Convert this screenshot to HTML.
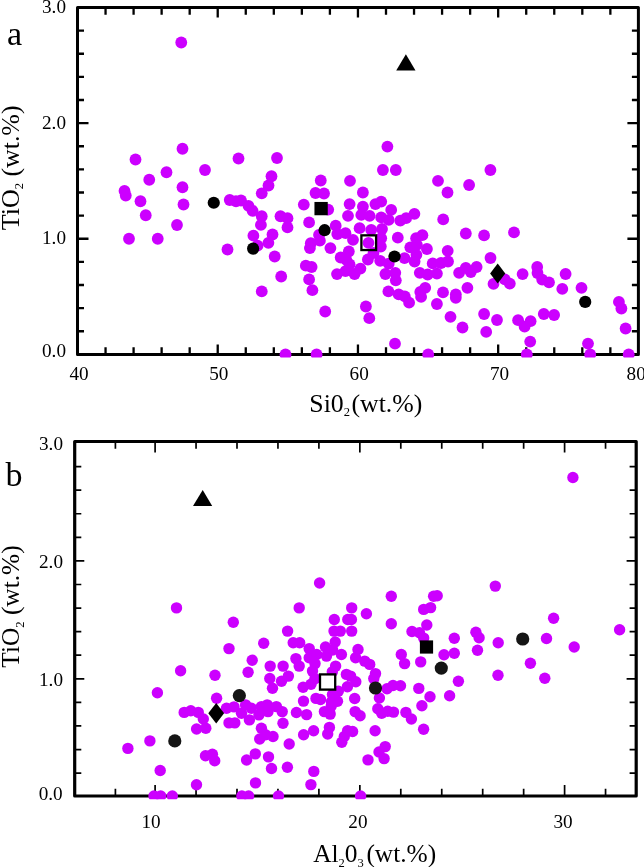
<!DOCTYPE html>
<html><head><meta charset="utf-8"><title>TiO2 scatter</title>
<style>html,body{margin:0;padding:0;background:#fff}svg{display:block;will-change:transform}text{font-family:"Liberation Serif",serif;fill:#000}</style>
</head><body>
<svg width="644" height="867" viewBox="0 0 644 867">
<rect width="644" height="867" fill="#fff"/>
<defs>
<clipPath id="ca"><rect x="70" y="0" width="574" height="357.4"/></clipPath>
<clipPath id="cb"><rect x="70" y="430" width="574" height="369.3"/></clipPath>
</defs>
<g id="pa">
<rect x="77.5" y="7.5" width="560.9" height="346.9" fill="none" stroke="#000" stroke-linejoin="round" stroke-width="3"/>
<path d="M105.55 354.4v-7.2M105.55 7.5v7.2M133.59 354.4v-7.2M133.59 7.5v7.2M161.63 354.4v-7.2M161.63 7.5v7.2M189.68 354.4v-7.2M189.68 7.5v7.2M217.72 354.4v-10M217.72 7.5v10M245.77 354.4v-7.2M245.77 7.5v7.2M273.81 354.4v-7.2M273.81 7.5v7.2M301.86 354.4v-7.2M301.86 7.5v7.2M329.9 354.4v-7.2M329.9 7.5v7.2M357.95 354.4v-10M357.95 7.5v10M386 354.4v-7.2M386 7.5v7.2M414.04 354.4v-7.2M414.04 7.5v7.2M442.08 354.4v-7.2M442.08 7.5v7.2M470.13 354.4v-7.2M470.13 7.5v7.2M498.17 354.4v-10M498.17 7.5v10M526.22 354.4v-7.2M526.22 7.5v7.2M554.26 354.4v-7.2M554.26 7.5v7.2M582.31 354.4v-7.2M582.31 7.5v7.2M610.36 354.4v-7.2M610.36 7.5v7.2M77.5 30.63h6.5M638.4 30.63h-6.5M77.5 53.75h6.5M638.4 53.75h-6.5M77.5 76.88h6.5M638.4 76.88h-6.5M77.5 100.01h6.5M638.4 100.01h-6.5M77.5 123.13h11M638.4 123.13h-11M77.5 146.26h6.5M638.4 146.26h-6.5M77.5 169.39h6.5M638.4 169.39h-6.5M77.5 192.51h6.5M638.4 192.51h-6.5M77.5 215.64h6.5M638.4 215.64h-6.5M77.5 238.77h11M638.4 238.77h-11M77.5 261.89h6.5M638.4 261.89h-6.5M77.5 285.02h6.5M638.4 285.02h-6.5M77.5 308.15h6.5M638.4 308.15h-6.5M77.5 331.27h6.5M638.4 331.27h-6.5" stroke="#000" stroke-width="2.3" fill="none"/>
<g clip-path="url(#ca)">
<circle cx="181.25" cy="42.5" r="5.9" fill="#cc00ff"/>
<circle cx="182.5" cy="148.75" r="5.9" fill="#cc00ff"/>
<circle cx="135.5" cy="159.5" r="5.9" fill="#cc00ff"/>
<circle cx="238.5" cy="158.5" r="5.9" fill="#cc00ff"/>
<circle cx="205" cy="170" r="5.9" fill="#cc00ff"/>
<circle cx="166.5" cy="172.25" r="5.9" fill="#cc00ff"/>
<circle cx="149.25" cy="179.75" r="5.9" fill="#cc00ff"/>
<circle cx="182.5" cy="187.25" r="5.9" fill="#cc00ff"/>
<circle cx="124.5" cy="191" r="5.9" fill="#cc00ff"/>
<circle cx="125.75" cy="195.5" r="5.9" fill="#cc00ff"/>
<circle cx="140.5" cy="201.25" r="5.9" fill="#cc00ff"/>
<circle cx="183.5" cy="204.5" r="5.9" fill="#cc00ff"/>
<circle cx="229.75" cy="200" r="5.9" fill="#cc00ff"/>
<circle cx="236" cy="201.25" r="5.9" fill="#cc00ff"/>
<circle cx="145.75" cy="215.25" r="5.9" fill="#cc00ff"/>
<circle cx="177" cy="225" r="5.9" fill="#cc00ff"/>
<circle cx="129" cy="238.75" r="5.9" fill="#cc00ff"/>
<circle cx="157.75" cy="238.75" r="5.9" fill="#cc00ff"/>
<circle cx="227.5" cy="249.5" r="5.9" fill="#cc00ff"/>
<circle cx="277" cy="158" r="5.9" fill="#cc00ff"/>
<circle cx="271.5" cy="176.25" r="5.9" fill="#cc00ff"/>
<circle cx="268.5" cy="185.5" r="5.9" fill="#cc00ff"/>
<circle cx="320.75" cy="180.5" r="5.9" fill="#cc00ff"/>
<circle cx="261.75" cy="193.3" r="5.9" fill="#cc00ff"/>
<circle cx="241" cy="200.5" r="5.9" fill="#cc00ff"/>
<circle cx="248.5" cy="205.8" r="5.9" fill="#cc00ff"/>
<circle cx="252.6" cy="210.8" r="5.9" fill="#cc00ff"/>
<circle cx="261.75" cy="216.25" r="5.9" fill="#cc00ff"/>
<circle cx="260.9" cy="224.9" r="5.9" fill="#cc00ff"/>
<circle cx="280.5" cy="216.25" r="5.9" fill="#cc00ff"/>
<circle cx="287.5" cy="218.2" r="5.9" fill="#cc00ff"/>
<circle cx="287.5" cy="227.4" r="5.9" fill="#cc00ff"/>
<circle cx="272.5" cy="234.5" r="5.9" fill="#cc00ff"/>
<circle cx="268.4" cy="242.8" r="5.9" fill="#cc00ff"/>
<circle cx="253.4" cy="235.7" r="5.9" fill="#cc00ff"/>
<circle cx="257.6" cy="245.7" r="5.9" fill="#cc00ff"/>
<circle cx="274.7" cy="256.5" r="5.9" fill="#cc00ff"/>
<circle cx="303.8" cy="204.6" r="5.9" fill="#cc00ff"/>
<circle cx="328.2" cy="209.6" r="5.9" fill="#cc00ff"/>
<circle cx="315.5" cy="193" r="5.9" fill="#cc00ff"/>
<circle cx="324" cy="193.5" r="5.9" fill="#cc00ff"/>
<circle cx="309.1" cy="222.4" r="5.9" fill="#cc00ff"/>
<circle cx="335.7" cy="225.7" r="5.9" fill="#cc00ff"/>
<circle cx="337.3" cy="234" r="5.9" fill="#cc00ff"/>
<circle cx="319" cy="234.9" r="5.9" fill="#cc00ff"/>
<circle cx="319.9" cy="240.7" r="5.9" fill="#cc00ff"/>
<circle cx="310.8" cy="243.2" r="5.9" fill="#cc00ff"/>
<circle cx="309.9" cy="248.1" r="5.9" fill="#cc00ff"/>
<circle cx="330.4" cy="248.1" r="5.9" fill="#cc00ff"/>
<circle cx="340.7" cy="257.5" r="5.9" fill="#cc00ff"/>
<circle cx="362.9" cy="192.5" r="5.9" fill="#cc00ff"/>
<circle cx="447.5" cy="192.5" r="5.9" fill="#cc00ff"/>
<circle cx="349.6" cy="204.1" r="5.9" fill="#cc00ff"/>
<circle cx="362.9" cy="206.6" r="5.9" fill="#cc00ff"/>
<circle cx="375.4" cy="204.1" r="5.9" fill="#cc00ff"/>
<circle cx="381.2" cy="201.6" r="5.9" fill="#cc00ff"/>
<circle cx="348" cy="215.8" r="5.9" fill="#cc00ff"/>
<circle cx="361.3" cy="214.9" r="5.9" fill="#cc00ff"/>
<circle cx="369.6" cy="215.8" r="5.9" fill="#cc00ff"/>
<circle cx="381.2" cy="217.4" r="5.9" fill="#cc00ff"/>
<circle cx="391.2" cy="209.9" r="5.9" fill="#cc00ff"/>
<circle cx="388.7" cy="219.9" r="5.9" fill="#cc00ff"/>
<circle cx="400.3" cy="220.7" r="5.9" fill="#cc00ff"/>
<circle cx="406.1" cy="218.2" r="5.9" fill="#cc00ff"/>
<circle cx="414.4" cy="213.8" r="5.9" fill="#cc00ff"/>
<circle cx="443.2" cy="219.4" r="5.9" fill="#cc00ff"/>
<circle cx="359.6" cy="228.2" r="5.9" fill="#cc00ff"/>
<circle cx="371.2" cy="229.9" r="5.9" fill="#cc00ff"/>
<circle cx="382" cy="229" r="5.9" fill="#cc00ff"/>
<circle cx="345.5" cy="233.2" r="5.9" fill="#cc00ff"/>
<circle cx="353" cy="239.8" r="5.9" fill="#cc00ff"/>
<circle cx="381.2" cy="238.2" r="5.9" fill="#cc00ff"/>
<circle cx="397.8" cy="237.7" r="5.9" fill="#cc00ff"/>
<circle cx="416.1" cy="238.2" r="5.9" fill="#cc00ff"/>
<circle cx="422.4" cy="235.2" r="5.9" fill="#cc00ff"/>
<circle cx="410.3" cy="247.3" r="5.9" fill="#cc00ff"/>
<circle cx="416.9" cy="244.8" r="5.9" fill="#cc00ff"/>
<circle cx="426.9" cy="249" r="5.9" fill="#cc00ff"/>
<circle cx="348.8" cy="251.5" r="5.9" fill="#cc00ff"/>
<circle cx="367.9" cy="259.5" r="5.9" fill="#cc00ff"/>
<circle cx="380.8" cy="246.5" r="5.9" fill="#cc00ff"/>
<circle cx="380.2" cy="260.8" r="5.9" fill="#cc00ff"/>
<circle cx="404.5" cy="258.1" r="5.9" fill="#cc00ff"/>
<circle cx="447.7" cy="250.8" r="5.9" fill="#cc00ff"/>
<circle cx="346.3" cy="259.8" r="5.9" fill="#cc00ff"/>
<circle cx="414.6" cy="261.5" r="5.9" fill="#cc00ff"/>
<circle cx="432.7" cy="263.4" r="5.9" fill="#cc00ff"/>
<circle cx="387.4" cy="146.6" r="5.9" fill="#cc00ff"/>
<circle cx="382.9" cy="170" r="5.9" fill="#cc00ff"/>
<circle cx="395.8" cy="170" r="5.9" fill="#cc00ff"/>
<circle cx="350" cy="180.8" r="5.9" fill="#cc00ff"/>
<circle cx="438" cy="180.8" r="5.9" fill="#cc00ff"/>
<circle cx="490.4" cy="170" r="5.9" fill="#cc00ff"/>
<circle cx="469.1" cy="185" r="5.9" fill="#cc00ff"/>
<circle cx="465.8" cy="233.5" r="5.9" fill="#cc00ff"/>
<circle cx="484.1" cy="235.4" r="5.9" fill="#cc00ff"/>
<circle cx="514" cy="232.4" r="5.9" fill="#cc00ff"/>
<circle cx="490.5" cy="258" r="5.9" fill="#cc00ff"/>
<circle cx="281.2" cy="276.5" r="5.9" fill="#cc00ff"/>
<circle cx="261.75" cy="291.4" r="5.9" fill="#cc00ff"/>
<circle cx="305.8" cy="265.7" r="5.9" fill="#cc00ff"/>
<circle cx="311.6" cy="267" r="5.9" fill="#cc00ff"/>
<circle cx="309.1" cy="279.4" r="5.9" fill="#cc00ff"/>
<circle cx="312.4" cy="290.2" r="5.9" fill="#cc00ff"/>
<circle cx="325.2" cy="311.5" r="5.9" fill="#cc00ff"/>
<circle cx="337" cy="274.1" r="5.9" fill="#cc00ff"/>
<circle cx="345.5" cy="271.1" r="5.9" fill="#cc00ff"/>
<circle cx="354.6" cy="274" r="5.9" fill="#cc00ff"/>
<circle cx="360.4" cy="268.6" r="5.9" fill="#cc00ff"/>
<circle cx="349.6" cy="264.5" r="5.9" fill="#cc00ff"/>
<circle cx="385.4" cy="274" r="5.9" fill="#cc00ff"/>
<circle cx="395.3" cy="272.8" r="5.9" fill="#cc00ff"/>
<circle cx="395.8" cy="280.3" r="5.9" fill="#cc00ff"/>
<circle cx="388.7" cy="263.7" r="5.9" fill="#cc00ff"/>
<circle cx="419.8" cy="272.8" r="5.9" fill="#cc00ff"/>
<circle cx="427.7" cy="274.5" r="5.9" fill="#cc00ff"/>
<circle cx="436.9" cy="273.6" r="5.9" fill="#cc00ff"/>
<circle cx="441" cy="263" r="5.9" fill="#cc00ff"/>
<circle cx="448" cy="261.5" r="5.9" fill="#cc00ff"/>
<circle cx="416.4" cy="254.8" r="5.9" fill="#cc00ff"/>
<circle cx="368.5" cy="242.9" r="5.9" fill="#cc00ff"/>
<circle cx="373.5" cy="253" r="5.9" fill="#cc00ff"/>
<circle cx="388.4" cy="291.4" r="5.9" fill="#cc00ff"/>
<circle cx="398.7" cy="294.4" r="5.9" fill="#cc00ff"/>
<circle cx="404.8" cy="296.4" r="5.9" fill="#cc00ff"/>
<circle cx="409.1" cy="302.7" r="5.9" fill="#cc00ff"/>
<circle cx="425.2" cy="287.8" r="5.9" fill="#cc00ff"/>
<circle cx="420.3" cy="291.9" r="5.9" fill="#cc00ff"/>
<circle cx="421.1" cy="296.9" r="5.9" fill="#cc00ff"/>
<circle cx="443" cy="292.4" r="5.9" fill="#cc00ff"/>
<circle cx="436.9" cy="304" r="5.9" fill="#cc00ff"/>
<circle cx="365.9" cy="306.5" r="5.9" fill="#cc00ff"/>
<circle cx="369.3" cy="318.2" r="5.9" fill="#cc00ff"/>
<circle cx="450.5" cy="316.8" r="5.9" fill="#cc00ff"/>
<circle cx="459.1" cy="272.8" r="5.9" fill="#cc00ff"/>
<circle cx="465.8" cy="267.8" r="5.9" fill="#cc00ff"/>
<circle cx="470.8" cy="272" r="5.9" fill="#cc00ff"/>
<circle cx="476.6" cy="267" r="5.9" fill="#cc00ff"/>
<circle cx="467.4" cy="287.8" r="5.9" fill="#cc00ff"/>
<circle cx="455.8" cy="294.5" r="5.9" fill="#cc00ff"/>
<circle cx="455.8" cy="297.8" r="5.9" fill="#cc00ff"/>
<circle cx="493.5" cy="283.9" r="5.9" fill="#cc00ff"/>
<circle cx="504.8" cy="279.4" r="5.9" fill="#cc00ff"/>
<circle cx="509.8" cy="283.6" r="5.9" fill="#cc00ff"/>
<circle cx="522.6" cy="274.1" r="5.9" fill="#cc00ff"/>
<circle cx="537.2" cy="267" r="5.9" fill="#cc00ff"/>
<circle cx="537.5" cy="273" r="5.9" fill="#cc00ff"/>
<circle cx="542.2" cy="279.6" r="5.9" fill="#cc00ff"/>
<circle cx="549" cy="282.3" r="5.9" fill="#cc00ff"/>
<circle cx="462.5" cy="327.5" r="5.9" fill="#cc00ff"/>
<circle cx="484.1" cy="314" r="5.9" fill="#cc00ff"/>
<circle cx="497" cy="320" r="5.9" fill="#cc00ff"/>
<circle cx="486.2" cy="331.9" r="5.9" fill="#cc00ff"/>
<circle cx="518.1" cy="320.2" r="5.9" fill="#cc00ff"/>
<circle cx="530.6" cy="321.2" r="5.9" fill="#cc00ff"/>
<circle cx="524.6" cy="326.7" r="5.9" fill="#cc00ff"/>
<circle cx="543.8" cy="314" r="5.9" fill="#cc00ff"/>
<circle cx="554.1" cy="315" r="5.9" fill="#cc00ff"/>
<circle cx="565.6" cy="274" r="5.9" fill="#cc00ff"/>
<circle cx="562.3" cy="288.9" r="5.9" fill="#cc00ff"/>
<circle cx="581.5" cy="287.8" r="5.9" fill="#cc00ff"/>
<circle cx="618.9" cy="301.9" r="5.9" fill="#cc00ff"/>
<circle cx="621.4" cy="308.5" r="5.9" fill="#cc00ff"/>
<circle cx="625.6" cy="328.5" r="5.9" fill="#cc00ff"/>
<circle cx="395" cy="343.7" r="5.9" fill="#cc00ff"/>
<circle cx="530.2" cy="341.6" r="5.9" fill="#cc00ff"/>
<circle cx="588" cy="343.6" r="5.9" fill="#cc00ff"/>
<circle cx="285.5" cy="354.4" r="5.9" fill="#cc00ff"/>
<circle cx="316.6" cy="354.4" r="5.9" fill="#cc00ff"/>
<circle cx="428.2" cy="354.4" r="5.9" fill="#cc00ff"/>
<circle cx="526.8" cy="354.4" r="5.9" fill="#cc00ff"/>
<circle cx="590.2" cy="354.4" r="5.9" fill="#cc00ff"/>
<circle cx="628.7" cy="354.4" r="5.9" fill="#cc00ff"/>
</g>
<circle cx="213.75" cy="202.75" r="6.1" fill="#000"/>
<circle cx="253.1" cy="248.6" r="6.1" fill="#000"/>
<circle cx="324.6" cy="230.2" r="6.1" fill="#000"/>
<circle cx="394.5" cy="256.5" r="6.1" fill="#000"/>
<circle cx="585.2" cy="301.9" r="6.1" fill="#000"/>
<rect x="314.45" y="201.95" width="13.3" height="13.3" fill="#000"/>
<rect x="361.4" y="235.35" width="14.7" height="14.7" fill="none" stroke="#000" stroke-width="2.3"/>
<path d="M497.7 263.4L505.3 273.5L497.7 283.6L490.1 273.5Z" fill="#000"/>
<path d="M405.9 54.2L415.5 70.5L396.2 70.5Z" fill="#000"/>
</g>
<g id="pb">
<rect x="74.7" y="441.5" width="561.5" height="354.5" fill="none" stroke="#000" stroke-linejoin="round" stroke-width="3.2"/>
<path d="M115.4 796v-7.2M115.4 441.5v7.2M155.1 796v-11M155.1 441.5v11M196.05 796v-7.2M196.05 441.5v7.2M237 796v-7.2M237 441.5v7.2M277.95 796v-7.2M277.95 441.5v7.2M318.9 796v-7.2M318.9 441.5v7.2M359.85 796v-11M359.85 441.5v11M400.8 796v-7.2M400.8 441.5v7.2M441.75 796v-7.2M441.75 441.5v7.2M482.7 796v-7.2M482.7 441.5v7.2M523.65 796v-7.2M523.65 441.5v7.2M564.6 796v-11M564.6 441.5v11M605.55 796v-7.2M605.55 441.5v7.2M74.7 466.58h6.6M636.2 466.58h-6.6M74.7 490.16h6.6M636.2 490.16h-6.6M74.7 513.74h6.6M636.2 513.74h-6.6M74.7 537.32h6.6M636.2 537.32h-6.6M74.7 560.9h9.6M636.2 560.9h-9.6M74.7 584.48h6.6M636.2 584.48h-6.6M74.7 608.06h6.6M636.2 608.06h-6.6M74.7 631.64h6.6M636.2 631.64h-6.6M74.7 655.22h6.6M636.2 655.22h-6.6M74.7 678.8h9.6M636.2 678.8h-9.6M74.7 702.38h6.6M636.2 702.38h-6.6M74.7 725.96h6.6M636.2 725.96h-6.6M74.7 749.54h6.6M636.2 749.54h-6.6M74.7 773.12h6.6M636.2 773.12h-6.6" stroke="#000" stroke-width="1.7" fill="none"/>
<g clip-path="url(#cb)">
<circle cx="572.9" cy="477.5" r="5.7" fill="#cc00ff"/>
<circle cx="176.5" cy="607.9" r="5.7" fill="#cc00ff"/>
<circle cx="319.6" cy="583" r="5.7" fill="#cc00ff"/>
<circle cx="299.2" cy="607.9" r="5.7" fill="#cc00ff"/>
<circle cx="233.3" cy="622.3" r="5.7" fill="#cc00ff"/>
<circle cx="287.6" cy="631.1" r="5.7" fill="#cc00ff"/>
<circle cx="263.7" cy="643.2" r="5.7" fill="#cc00ff"/>
<circle cx="293.2" cy="642.8" r="5.7" fill="#cc00ff"/>
<circle cx="299.7" cy="642.8" r="5.7" fill="#cc00ff"/>
<circle cx="391.3" cy="596.3" r="5.7" fill="#cc00ff"/>
<circle cx="351.7" cy="607.9" r="5.7" fill="#cc00ff"/>
<circle cx="366.4" cy="613.7" r="5.7" fill="#cc00ff"/>
<circle cx="334.3" cy="619.5" r="5.7" fill="#cc00ff"/>
<circle cx="347.8" cy="619.5" r="5.7" fill="#cc00ff"/>
<circle cx="351.4" cy="619.5" r="5.7" fill="#cc00ff"/>
<circle cx="334" cy="631.1" r="5.7" fill="#cc00ff"/>
<circle cx="340.3" cy="631.1" r="5.7" fill="#cc00ff"/>
<circle cx="351.7" cy="631.1" r="5.7" fill="#cc00ff"/>
<circle cx="391.3" cy="623.7" r="5.7" fill="#cc00ff"/>
<circle cx="335.2" cy="642" r="5.7" fill="#cc00ff"/>
<circle cx="433.6" cy="596.2" r="5.7" fill="#cc00ff"/>
<circle cx="437.2" cy="595.7" r="5.7" fill="#cc00ff"/>
<circle cx="423.7" cy="609.4" r="5.7" fill="#cc00ff"/>
<circle cx="430.6" cy="607.6" r="5.7" fill="#cc00ff"/>
<circle cx="426.8" cy="625" r="5.7" fill="#cc00ff"/>
<circle cx="412" cy="631.5" r="5.7" fill="#cc00ff"/>
<circle cx="419.5" cy="632.8" r="5.7" fill="#cc00ff"/>
<circle cx="423.7" cy="638.1" r="5.7" fill="#cc00ff"/>
<circle cx="495.3" cy="586.1" r="5.7" fill="#cc00ff"/>
<circle cx="454.3" cy="638.3" r="5.7" fill="#cc00ff"/>
<circle cx="475.9" cy="632.3" r="5.7" fill="#cc00ff"/>
<circle cx="479.1" cy="637.8" r="5.7" fill="#cc00ff"/>
<circle cx="498.2" cy="642.8" r="5.7" fill="#cc00ff"/>
<circle cx="553.6" cy="618.2" r="5.7" fill="#cc00ff"/>
<circle cx="619.6" cy="629.8" r="5.7" fill="#cc00ff"/>
<circle cx="546.5" cy="638.5" r="5.7" fill="#cc00ff"/>
<circle cx="574.2" cy="647" r="5.7" fill="#cc00ff"/>
<circle cx="180.6" cy="670.7" r="5.7" fill="#cc00ff"/>
<circle cx="157.4" cy="692.7" r="5.7" fill="#cc00ff"/>
<circle cx="215" cy="675.2" r="5.7" fill="#cc00ff"/>
<circle cx="216.6" cy="698.2" r="5.7" fill="#cc00ff"/>
<circle cx="229" cy="648.6" r="5.7" fill="#cc00ff"/>
<circle cx="252.2" cy="660.3" r="5.7" fill="#cc00ff"/>
<circle cx="248.1" cy="672.2" r="5.7" fill="#cc00ff"/>
<circle cx="270.2" cy="666.1" r="5.7" fill="#cc00ff"/>
<circle cx="283.1" cy="666.1" r="5.7" fill="#cc00ff"/>
<circle cx="269.8" cy="678.5" r="5.7" fill="#cc00ff"/>
<circle cx="281.5" cy="681.3" r="5.7" fill="#cc00ff"/>
<circle cx="288.4" cy="676.1" r="5.7" fill="#cc00ff"/>
<circle cx="272.5" cy="688.2" r="5.7" fill="#cc00ff"/>
<circle cx="309.2" cy="648.6" r="5.7" fill="#cc00ff"/>
<circle cx="295.9" cy="658.6" r="5.7" fill="#cc00ff"/>
<circle cx="299.2" cy="666.1" r="5.7" fill="#cc00ff"/>
<circle cx="309.2" cy="657.8" r="5.7" fill="#cc00ff"/>
<circle cx="316.7" cy="654.5" r="5.7" fill="#cc00ff"/>
<circle cx="315" cy="663.6" r="5.7" fill="#cc00ff"/>
<circle cx="312.5" cy="671.1" r="5.7" fill="#cc00ff"/>
<circle cx="315" cy="678.6" r="5.7" fill="#cc00ff"/>
<circle cx="303.1" cy="687.2" r="5.7" fill="#cc00ff"/>
<circle cx="311" cy="684.2" r="5.7" fill="#cc00ff"/>
<circle cx="325.5" cy="647" r="5.7" fill="#cc00ff"/>
<circle cx="303.5" cy="701.1" r="5.7" fill="#cc00ff"/>
<circle cx="316" cy="698.4" r="5.7" fill="#cc00ff"/>
<circle cx="326.5" cy="656.1" r="5.7" fill="#cc00ff"/>
<circle cx="341.4" cy="654.5" r="5.7" fill="#cc00ff"/>
<circle cx="358" cy="649.5" r="5.7" fill="#cc00ff"/>
<circle cx="355.6" cy="657.8" r="5.7" fill="#cc00ff"/>
<circle cx="364.7" cy="661.1" r="5.7" fill="#cc00ff"/>
<circle cx="369.7" cy="664.4" r="5.7" fill="#cc00ff"/>
<circle cx="335.6" cy="666.1" r="5.7" fill="#cc00ff"/>
<circle cx="332.3" cy="671.9" r="5.7" fill="#cc00ff"/>
<circle cx="346.4" cy="674.4" r="5.7" fill="#cc00ff"/>
<circle cx="350.6" cy="676.1" r="5.7" fill="#cc00ff"/>
<circle cx="355.8" cy="681.7" r="5.7" fill="#cc00ff"/>
<circle cx="347.4" cy="686.7" r="5.7" fill="#cc00ff"/>
<circle cx="375.5" cy="673.6" r="5.7" fill="#cc00ff"/>
<circle cx="373.8" cy="678.6" r="5.7" fill="#cc00ff"/>
<circle cx="401.3" cy="654.5" r="5.7" fill="#cc00ff"/>
<circle cx="404.6" cy="663.6" r="5.7" fill="#cc00ff"/>
<circle cx="420.7" cy="661.9" r="5.7" fill="#cc00ff"/>
<circle cx="387" cy="688.8" r="5.7" fill="#cc00ff"/>
<circle cx="393" cy="685.5" r="5.7" fill="#cc00ff"/>
<circle cx="400.5" cy="685.7" r="5.7" fill="#cc00ff"/>
<circle cx="418.8" cy="688.4" r="5.7" fill="#cc00ff"/>
<circle cx="379.4" cy="698" r="5.7" fill="#cc00ff"/>
<circle cx="354.7" cy="698.5" r="5.7" fill="#cc00ff"/>
<circle cx="338.3" cy="691.2" r="5.7" fill="#cc00ff"/>
<circle cx="332.5" cy="694.5" r="5.7" fill="#cc00ff"/>
<circle cx="337.5" cy="701.2" r="5.7" fill="#cc00ff"/>
<circle cx="331.2" cy="706.3" r="5.7" fill="#cc00ff"/>
<circle cx="320.5" cy="699.5" r="5.7" fill="#cc00ff"/>
<circle cx="331.5" cy="701.8" r="5.7" fill="#cc00ff"/>
<circle cx="332.7" cy="650" r="5.7" fill="#cc00ff"/>
<circle cx="324.4" cy="711.6" r="5.7" fill="#cc00ff"/>
<circle cx="330.2" cy="714.1" r="5.7" fill="#cc00ff"/>
<circle cx="444" cy="654.8" r="5.7" fill="#cc00ff"/>
<circle cx="454.3" cy="653.3" r="5.7" fill="#cc00ff"/>
<circle cx="477.5" cy="650.3" r="5.7" fill="#cc00ff"/>
<circle cx="530.4" cy="663.3" r="5.7" fill="#cc00ff"/>
<circle cx="498" cy="675.2" r="5.7" fill="#cc00ff"/>
<circle cx="458.4" cy="681.3" r="5.7" fill="#cc00ff"/>
<circle cx="449.6" cy="695.7" r="5.7" fill="#cc00ff"/>
<circle cx="430" cy="696.8" r="5.7" fill="#cc00ff"/>
<circle cx="544.8" cy="678.2" r="5.7" fill="#cc00ff"/>
<circle cx="184.2" cy="712.4" r="5.7" fill="#cc00ff"/>
<circle cx="190.8" cy="710.7" r="5.7" fill="#cc00ff"/>
<circle cx="198.3" cy="712.4" r="5.7" fill="#cc00ff"/>
<circle cx="203.3" cy="719" r="5.7" fill="#cc00ff"/>
<circle cx="196.6" cy="729" r="5.7" fill="#cc00ff"/>
<circle cx="205.8" cy="728.2" r="5.7" fill="#cc00ff"/>
<circle cx="226.5" cy="708.2" r="5.7" fill="#cc00ff"/>
<circle cx="234" cy="706.9" r="5.7" fill="#cc00ff"/>
<circle cx="229" cy="722.9" r="5.7" fill="#cc00ff"/>
<circle cx="234.8" cy="722.9" r="5.7" fill="#cc00ff"/>
<circle cx="245.6" cy="704.9" r="5.7" fill="#cc00ff"/>
<circle cx="241.5" cy="713.2" r="5.7" fill="#cc00ff"/>
<circle cx="251.4" cy="708.2" r="5.7" fill="#cc00ff"/>
<circle cx="249.4" cy="719.9" r="5.7" fill="#cc00ff"/>
<circle cx="261.4" cy="706.6" r="5.7" fill="#cc00ff"/>
<circle cx="267.2" cy="704.9" r="5.7" fill="#cc00ff"/>
<circle cx="258.9" cy="714.9" r="5.7" fill="#cc00ff"/>
<circle cx="268" cy="711.6" r="5.7" fill="#cc00ff"/>
<circle cx="276.4" cy="706.6" r="5.7" fill="#cc00ff"/>
<circle cx="282.2" cy="711.6" r="5.7" fill="#cc00ff"/>
<circle cx="261.4" cy="728.2" r="5.7" fill="#cc00ff"/>
<circle cx="259.7" cy="739" r="5.7" fill="#cc00ff"/>
<circle cx="265.6" cy="734.8" r="5.7" fill="#cc00ff"/>
<circle cx="273" cy="736.5" r="5.7" fill="#cc00ff"/>
<circle cx="283" cy="723.2" r="5.7" fill="#cc00ff"/>
<circle cx="296.4" cy="712.5" r="5.7" fill="#cc00ff"/>
<circle cx="306.6" cy="714.6" r="5.7" fill="#cc00ff"/>
<circle cx="355.1" cy="711.6" r="5.7" fill="#cc00ff"/>
<circle cx="360.1" cy="715.7" r="5.7" fill="#cc00ff"/>
<circle cx="377.8" cy="708.8" r="5.7" fill="#cc00ff"/>
<circle cx="381.7" cy="713.2" r="5.7" fill="#cc00ff"/>
<circle cx="387.7" cy="711.3" r="5.7" fill="#cc00ff"/>
<circle cx="393.5" cy="712.1" r="5.7" fill="#cc00ff"/>
<circle cx="313.6" cy="730.7" r="5.7" fill="#cc00ff"/>
<circle cx="303.6" cy="734.8" r="5.7" fill="#cc00ff"/>
<circle cx="329.4" cy="727.4" r="5.7" fill="#cc00ff"/>
<circle cx="327.7" cy="734" r="5.7" fill="#cc00ff"/>
<circle cx="347.6" cy="730.7" r="5.7" fill="#cc00ff"/>
<circle cx="352.6" cy="731.5" r="5.7" fill="#cc00ff"/>
<circle cx="344.3" cy="736.5" r="5.7" fill="#cc00ff"/>
<circle cx="341.8" cy="742.3" r="5.7" fill="#cc00ff"/>
<circle cx="375.1" cy="730.7" r="5.7" fill="#cc00ff"/>
<circle cx="289.2" cy="744" r="5.7" fill="#cc00ff"/>
<circle cx="385.2" cy="746.6" r="5.7" fill="#cc00ff"/>
<circle cx="379" cy="752" r="5.7" fill="#cc00ff"/>
<circle cx="405.9" cy="712.4" r="5.7" fill="#cc00ff"/>
<circle cx="411.4" cy="719" r="5.7" fill="#cc00ff"/>
<circle cx="423.6" cy="729.3" r="5.7" fill="#cc00ff"/>
<circle cx="421.9" cy="705.8" r="5.7" fill="#cc00ff"/>
<circle cx="255.3" cy="753.9" r="5.7" fill="#cc00ff"/>
<circle cx="246.6" cy="760" r="5.7" fill="#cc00ff"/>
<circle cx="268.5" cy="756.9" r="5.7" fill="#cc00ff"/>
<circle cx="271.5" cy="768.5" r="5.7" fill="#cc00ff"/>
<circle cx="287.4" cy="767.2" r="5.7" fill="#cc00ff"/>
<circle cx="313.8" cy="771.4" r="5.7" fill="#cc00ff"/>
<circle cx="255.5" cy="782.9" r="5.7" fill="#cc00ff"/>
<circle cx="310.9" cy="784.6" r="5.7" fill="#cc00ff"/>
<circle cx="127.9" cy="748.4" r="5.7" fill="#cc00ff"/>
<circle cx="149.9" cy="740.9" r="5.7" fill="#cc00ff"/>
<circle cx="160.2" cy="770.5" r="5.7" fill="#cc00ff"/>
<circle cx="205.5" cy="755.7" r="5.7" fill="#cc00ff"/>
<circle cx="212.4" cy="754.2" r="5.7" fill="#cc00ff"/>
<circle cx="214.7" cy="760.8" r="5.7" fill="#cc00ff"/>
<circle cx="196.5" cy="784.7" r="5.7" fill="#cc00ff"/>
<circle cx="368" cy="759.9" r="5.7" fill="#cc00ff"/>
<circle cx="384.1" cy="758.6" r="5.7" fill="#cc00ff"/>
<circle cx="154" cy="796" r="5.7" fill="#cc00ff"/>
<circle cx="160.7" cy="796" r="5.7" fill="#cc00ff"/>
<circle cx="172.3" cy="796" r="5.7" fill="#cc00ff"/>
<circle cx="241.9" cy="796" r="5.7" fill="#cc00ff"/>
<circle cx="248.6" cy="796" r="5.7" fill="#cc00ff"/>
<circle cx="278.5" cy="796" r="5.7" fill="#cc00ff"/>
<circle cx="360.6" cy="796" r="5.7" fill="#cc00ff"/>
</g>
<circle cx="174.8" cy="740.9" r="6.6" fill="#151515"/>
<circle cx="239.35" cy="695.6" r="6.6" fill="#151515"/>
<circle cx="375.5" cy="688" r="6.6" fill="#151515"/>
<circle cx="441.3" cy="668.1" r="6.6" fill="#151515"/>
<circle cx="522.7" cy="639" r="6.6" fill="#151515"/>
<rect x="419.9" y="640.4" width="13.2" height="13.2" fill="#000"/>
<rect x="320" y="674.4" width="15.2" height="15.2" fill="#fff" stroke="#000" stroke-width="2.3"/>
<path d="M216.2 702.9L224.1 713.2L216.2 723.5L208.3 713.2Z" fill="#000"/>
<path d="M202.7 490L212.2 506L193 506Z" fill="#000"/>
</g>
<text x="66" y="13.4" font-size="19.2" text-anchor="end">3.0</text>
<text x="66" y="129.2" font-size="19.2" text-anchor="end">2.0</text>
<text x="66" y="243.7" font-size="19.2" text-anchor="end">1.0</text>
<text x="66" y="357.1" font-size="19.2" text-anchor="end">0.0</text>
<text x="79" y="380" font-size="19.2" text-anchor="middle">40</text>
<text x="218.8" y="380" font-size="19.2" text-anchor="middle">50</text>
<text x="359.2" y="380" font-size="19.2" text-anchor="middle">60</text>
<text x="499.5" y="380" font-size="19.2" text-anchor="middle">70</text>
<text x="636.2" y="380" font-size="19.2" text-anchor="middle">80</text>
<text x="63" y="449.8" font-size="19.2" text-anchor="end">3.0</text>
<text x="63" y="567.9" font-size="19.2" text-anchor="end">2.0</text>
<text x="63" y="686" font-size="19.2" text-anchor="end">1.0</text>
<text x="62.7" y="799.7" font-size="19.2" text-anchor="end">0.0</text>
<text x="151" y="828.2" font-size="19.2" text-anchor="middle">10</text>
<text x="357.9" y="828.2" font-size="19.2" text-anchor="middle">20</text>
<text x="563" y="828.2" font-size="19.2" text-anchor="middle">30</text>
<text x="7" y="44.5" font-size="34" text-anchor="start">a</text>
<text x="5.6" y="485.6" font-size="34" text-anchor="start">b</text>
<text transform="translate(18.6 167.8) rotate(-90)" font-size="25.9" text-anchor="middle">TiO<tspan font-size="12.5" dy="4.5">2</tspan><tspan dy="-4.5"> (wt.%)</tspan></text>
<text transform="translate(19.4 606.5) rotate(-90)" font-size="25.4" text-anchor="middle">TiO<tspan font-size="12.5" dy="4.5">2</tspan><tspan dy="-4.5"> (wt.%)</tspan></text>
<text x="309.3" y="412.3" font-size="25.8">Si0<tspan font-size="12.5" dy="4">2</tspan><tspan dy="-4" dx="1.5">(wt.%)</tspan></text>
<text x="313.2" y="861.7" font-size="25.4">Al<tspan font-size="12.5" dy="5">2</tspan><tspan dy="-5">0</tspan><tspan font-size="12.5" dy="5">3</tspan><tspan dy="-5" dx="2.6">(wt.%)</tspan></text>
</svg>
</body></html>
